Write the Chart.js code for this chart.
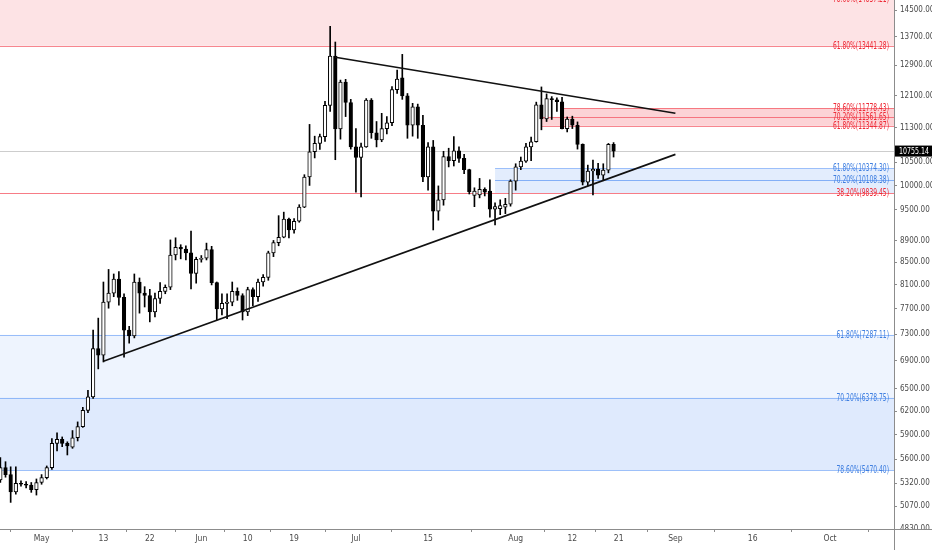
<!DOCTYPE html>
<html><head><meta charset="utf-8">
<script src="https://cdn.jsdelivr.net/npm/chart.js@4.4.1/dist/chart.umd.min.js"></script>
<style>html,body{margin:0;padding:0;background:#fff;}#wrap{width:932px;height:550px;position:relative;}</style>
</head><body><div id="wrap"><canvas id="c"></canvas></div>
<script>
// ---------- data (daily candles from startDate) ----------
const startDate = '2019-04-23';
const open = [
 5360,5500,5420,5225,5320,5310,5300,5250,
 5330,5385,5500,5790,5840,5790,5745,5860,6000,6210,6390,7080,6980,7810,7960,8200,7890,7360,7270,8150,7960,7920,7650,7870,7990,8060,8630,8770,8740,8670,8300,
 8550,8570,8730,8140,7700,7790,7810,7990,7920,7650,8020,7900,8150,8230,8670,8860,8960,9310,9100,9270,9550,10180,10740,10930,11090,11850,13150,11270,12450,11920,
 10850,10610,10850,11980,11180,11010,11280,11420,12250,12560,12090,11360,11810,11360,10180,10850,9470,9700,10630,10540,10760,10590,10340,9790,9800,9920,9880,9510,9520,9550,9610,
 10090,10400,10530,10850,10970,11860,11510,12020,11990,11940,11280,11510,11360,10910,10070,10310,10350,10220,10330,10910
];
const high = [
 5620,5570,5510,5510,5350,5340,5330,5370,
 5420,5520,5850,5920,5870,5810,5950,6060,6250,6480,7360,7550,8150,8370,8290,8330,7950,7420,8290,8220,8070,8025,7960,8140,8100,8910,8950,8820,8800,9080,8590,
 8620,8850,8790,8150,7950,7950,8150,8050,7950,8060,8050,8200,8280,8700,8900,9380,9450,9330,9320,9600,10230,11380,11100,11150,11950,14010,13550,12500,12520,12000,
 11280,10940,12020,12020,11450,11650,11570,12330,12770,13200,12150,11900,11880,11600,10950,11000,9990,10750,10820,11090,10850,10680,10350,9950,10150,9950,10120,9640,9700,9730,10120,
 10470,10620,10930,11080,11930,12320,12140,12070,12040,12050,11560,11580,11440,10920,10440,10550,10480,10470,10930,10950
];
const low = [
 5330,5390,5110,5200,5290,5270,5220,5190,
 5310,5370,5480,5700,5750,5650,5730,5820,5990,6180,6370,6780,6880,7710,7900,7760,6950,7160,7240,7630,7730,7490,7570,7790,7950,8020,8540,8560,8540,8030,8130,
 8500,8540,8100,7520,7600,7540,7750,7840,7520,7590,7750,7820,8080,8180,8600,8800,8950,8950,9040,9250,9540,10000,10600,10790,10980,11700,10560,11030,11570,10800,
 9860,9760,10840,11050,10850,10970,11150,11350,12150,12000,11050,11100,11050,10080,9900,9100,9290,9590,10400,10420,10500,10250,9820,9560,9740,9780,9350,9200,9400,9420,9570,
 9900,10340,10500,10540,10960,11250,11450,11500,11700,11270,11200,11280,10800,10010,9990,9800,10150,10100,10270,10620
];
const close = [
 5500,5420,5225,5320,5310,5300,5250,5330,
 5385,5500,5790,5840,5790,5760,5860,6000,6210,6390,7080,6980,7810,7960,8200,7890,7360,7270,8150,7960,7920,7650,7870,7990,8060,8630,8770,8740,8670,8300,8550,
 8570,8730,8140,7700,7790,7810,7990,7920,7650,8020,7900,8150,8230,8670,8860,8960,9310,9100,9270,9550,10180,10740,10930,11090,11850,13150,11270,12450,11920,10850,
 10610,10850,11980,11180,11010,11280,11420,12250,12530,12090,11360,11810,11360,10180,10850,9470,9700,10630,10540,10760,10590,10340,9870,9880,9920,9860,9510,9560,9580,9610,10090,
 10400,10530,10850,10970,11860,11510,12020,11990,11940,11280,11510,11360,10910,10070,10310,10350,10220,10330,10910,10755.14
];
const lastPrice = 10755.14;

const xTickDates = ['2019-05-01','2019-05-13','2019-05-22','2019-06-01','2019-06-10','2019-06-19','2019-07-01','2019-07-15','2019-08-01','2019-08-12','2019-08-21','2019-09-01','2019-09-16','2019-10-01'];
const xTickLabels = ['May','13','22','Jun','10','19','Jul','15','Aug','12','21','Sep','16','Oct'];
const yTickValues = [14500,13700,12900,12100,11300,10500,10000,9500,8900,8500,8100,7700,7300,6900,6500,6200,5900,5600,5320,5070,4830];

// fib zones (low, high, first date; null = whole chart)
const zoneLow   = [13441.28, 11344.87, 11561.65, 9839.45, 6378.75, 5470.40];
const zoneHigh  = [14837.21, 11561.65, 11778.43, 10374.30, 7287.11, 6378.75];
const zoneStart = [null, '2019-08-06', '2019-08-10', '2019-07-28', null, null];

// fib levels
const levelValues = [14837.21, 13441.28, 11778.43, 11561.65, 11344.87, 10374.30, 10108.38, 9839.45, 7287.11, 6378.75, 5470.40];
const levelTexts  = ['78.60%(14837.21)','61.80%(13441.28)','78.60%(11778.43)','70.20%(11561.65)','61.80%(11344.87)','61.80%(10374.30)','70.20%(10108.38)','38.20%(9839.45)','61.80%(7287.11)','70.20%(6378.75)','78.60%(5470.40)'];
const levelStart  = [null, null, '2019-08-10', '2019-08-06', '2019-08-06', '2019-07-28', '2019-07-28', null, null, null, null];

// trend lines
const upperTrendDates = ['2019-06-27', '2019-09-01'];
const upperTrendValues = [13120, 11650];
const lowerTrendDates = ['2019-05-13', '2019-09-01'];
const lowerTrendValues = [6890, 10680];

// ---------- helpers ----------
const BASE = Date.parse('2019-05-01T00:00:00Z');
const dayOf = s => (Date.parse(s + 'T00:00:00Z') - BASE) / 86400000;
const day0 = dayOf(startDate);
const days = open.map((_, i) => day0 + i);
const xMin = dayOf('2019-04-23') - 0.07;
const xMax = dayOf('2019-10-13') + 0.42;

// ---------- styles ----------
const RED = 'rgba(242,54,69,';
const BLUE = 'rgba(66,133,244,';
const AXIS = '#8c8c8c';
const zoneFill = [RED + '0.14)', RED + '0.22)', RED + '0.22)', BLUE + '0.15)', BLUE + '0.09)', BLUE + '0.17)'];
const levelLine = [RED + '0.6)', RED + '0.6)', RED + '0.6)', RED + '0.6)', RED + '0.6)', BLUE + '0.45)', BLUE + '0.6)', RED + '0.65)', BLUE + '0.5)', BLUE + '0.5)', BLUE + '0.5)'];
const levelTextColor = ['#ee2a36','#ee2a36','#ee2a36','#ee2a36','#ee2a36','#3f7fe0','#3f7fe0','#ee2a36','#3f7fe0','#3f7fe0','#3f7fe0'];
const NARROW = '"Liberation Sans Narrow","DejaVu Sans Condensed","Liberation Sans",sans-serif';

const fibPlugin = {
  id: 'fib',
  beforeDatasetsDraw(chart) {
    const {ctx, chartArea: a, scales: {x, y}} = chart;
    ctx.save();
    ctx.beginPath(); ctx.rect(a.left, a.top, a.right - a.left, a.bottom - a.top); ctx.clip();
    zoneLow.forEach((lo, i) => {
      const x0 = zoneStart[i] ? x.getPixelForValue(dayOf(zoneStart[i])) : a.left;
      const yt = y.getPixelForValue(zoneHigh[i]), yb = y.getPixelForValue(lo);
      ctx.fillStyle = zoneFill[i];
      ctx.fillRect(x0, yt, a.right - x0, yb - yt);
    });
    const yp = Math.round(y.getPixelForValue(lastPrice)) + 0.5;
    ctx.strokeStyle = 'rgba(200,200,200,0.9)'; ctx.lineWidth = 1;
    ctx.beginPath(); ctx.moveTo(a.left, yp); ctx.lineTo(a.right, yp); ctx.stroke();
    levelValues.forEach((v, i) => {
      const x0 = levelStart[i] ? x.getPixelForValue(dayOf(levelStart[i])) : a.left;
      const yy = Math.round(y.getPixelForValue(v)) + 0.5;
      ctx.strokeStyle = levelLine[i]; ctx.lineWidth = 1;
      ctx.beginPath(); ctx.moveTo(x0, yy); ctx.lineTo(a.right, yy); ctx.stroke();
    });
    ctx.restore();
  },
  afterDatasetsDraw(chart) {
    const {ctx, chartArea: a, scales: {y}} = chart;
    ctx.save();
    ctx.beginPath(); ctx.rect(a.left, a.top, a.right - a.left, a.bottom - a.top); ctx.clip();
    ctx.font = '10px ' + NARROW;
    ctx.textAlign = 'right'; ctx.textBaseline = 'middle';
    levelValues.forEach((v, i) => {
      const yy = y.getPixelForValue(v);
      ctx.fillStyle = levelTextColor[i];
      ctx.fillText(levelTexts[i], a.right - 5, yy + 0.5, levelTexts[i].length * 3.5);
    });
    ctx.restore();
  },
  afterDraw(chart) {
    const {ctx, chartArea: a, scales: {y}, width, height} = chart;
    ctx.save();
    // hide the part of the lowest price label that falls under the time axis
    ctx.fillStyle = '#fff';
    ctx.fillRect(a.right + 1, a.bottom + 1, width - a.right - 1, height - a.bottom - 1);
    // axis lines run to the canvas edges
    ctx.strokeStyle = AXIS; ctx.lineWidth = 1;
    ctx.beginPath();
    ctx.moveTo(a.left, Math.round(a.bottom) + 0.5); ctx.lineTo(width, Math.round(a.bottom) + 0.5);
    ctx.moveTo(Math.round(a.right) + 0.5, a.top); ctx.lineTo(Math.round(a.right) + 0.5, height);
    ctx.stroke();
    // last price tag
    const yp = y.getPixelForValue(lastPrice);
    ctx.fillStyle = '#000';
    ctx.fillRect(a.right + 1, yp - 5.5, width - a.right - 1, 11);
    ctx.fillStyle = '#fff';
    ctx.font = '9px ' + NARROW;
    ctx.textAlign = 'left'; ctx.textBaseline = 'middle';
    ctx.fillText(lastPrice.toFixed(2), a.right + 5, yp + 0.5, width - a.right - 8);
    ctx.restore();
  }
};

const bodyData = days.map((d, i) => ({x: d, y: [open[i], close[i]]}));
const wickData = days.map((d, i) => ({x: d, y: [low[i], high[i]]}));
const noPad = s => { s.paddingTop = 0; s.paddingBottom = 0; s.paddingLeft = 0; s.paddingRight = 0; };

new Chart(document.getElementById('c'), {
  type: 'bar',
  data: {
    datasets: [
      {
        type: 'line', data: upperTrendDates.map((s, i) => ({x: dayOf(s), y: upperTrendValues[i]})),
        borderColor: '#111', borderWidth: 1.6, pointRadius: 0, order: 0
      },
      {
        type: 'line', data: lowerTrendDates.map((s, i) => ({x: dayOf(s), y: lowerTrendValues[i]})),
        borderColor: '#111', borderWidth: 1.6, pointRadius: 0, order: 0
      },
      {
        data: bodyData, grouped: false, barThickness: 3.6, borderWidth: 1, borderSkipped: false,
        borderColor: '#000',
        backgroundColor: days.map((_, i) => close[i] >= open[i] ? '#ffffff' : '#000000'),
        order: 1
      },
      {
        data: wickData, grouped: false, barThickness: 1, borderWidth: 0,
        backgroundColor: '#000', order: 2
      }
    ]
  },
  options: {
    responsive: true, maintainAspectRatio: false, animation: false,
    layout: {padding: 0},
    plugins: {legend: {display: false}, tooltip: {enabled: false}},
    scales: {
      x: {
        type: 'linear', min: xMin, max: xMax, offset: false,
        afterBuildTicks: s => { s.ticks = xTickDates.map(d => ({value: dayOf(d)})); },
        afterFit: s => { s.height = 21; noPad(s); },
        ticks: {
          autoSkip: false, maxRotation: 0, padding: 2, color: '#4a4a4a',
          font: {family: NARROW, size: 8.5},
          callback: (v, i) => xTickLabels[i]
        },
        grid: {drawOnChartArea: false, drawTicks: true, tickLength: 3, color: AXIS},
        border: {display: true, color: AXIS, width: 1}
      },
      y: {
        type: 'logarithmic', position: 'right', min: 4830, max: 14811,
        afterBuildTicks: s => { s.ticks = yTickValues.map(v => ({value: v})); },
        afterFit: s => { s.width = 38; noPad(s); },
        ticks: {
          autoSkip: false, padding: 3, color: '#4a4a4a',
          font: {family: NARROW, size: 8},
          callback: v => Number(v).toFixed(2)
        },
        grid: {drawOnChartArea: false, drawTicks: true, tickLength: 3, color: AXIS},
        border: {display: true, color: AXIS, width: 1}
      }
    }
  },
  plugins: [fibPlugin]
});
</script>
</body></html>
